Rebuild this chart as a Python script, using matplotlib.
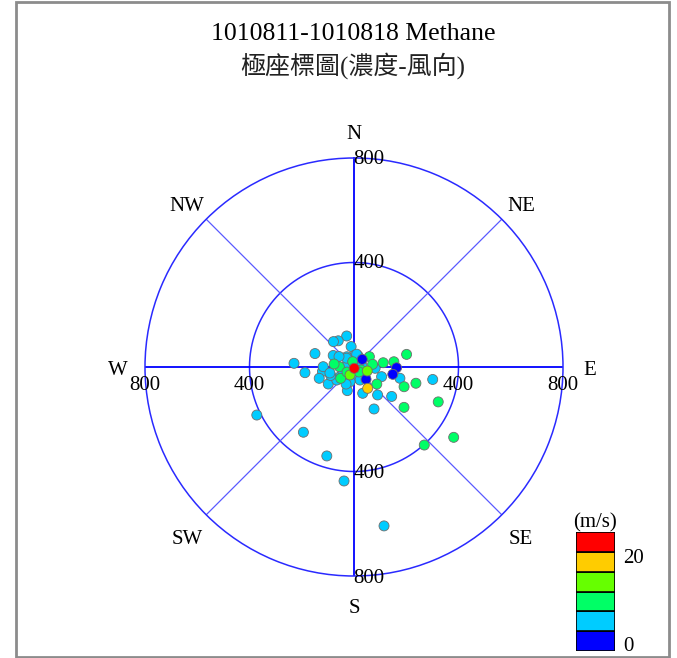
import numpy as np
import matplotlib
matplotlib.use("Agg")
import matplotlib.pyplot as plt
from matplotlib.colors import ListedColormap, BoundaryNorm
from matplotlib.patches import Rectangle

# Methane concentration by wind direction (degrees clockwise from north),
# coloured by wind speed (m/s).
direction = [
    346.7, 329.0, 321.0, 352.0, 289.0, 299.0, 273.5, 263.4, 261.9, 252.0,
    236.5, 195.8, 161.7, 154.5, 139.8, 128.0, 109.3, 103.8, 99.0, 4.8,
    21.3, 324.7, 36.0, 272.0, 235.3, 233.0, 223.4, 197.0, 159.0, 131.4,
    93.5, 243.7, 217.8, 197.0, 185.0, 169.3, 270.6, 320.0, 12.0, 155.0,
    195.0, 305.0, 250.0, 245.6, 82.9, 205.0, 256.0,
    56.0, 346.0, 271.0, 229.6, 81.8, 81.7, 82.5, 76.5, 126.8, 111.5,
    104.7, 128.9, 112.5, 138.0, 125.2, 234.0, 113.0, 278.5, 135.0,
    47.2, 91.0, 100.7, 135.7,
    106.7, 206.6,
    147.3,
    170.0,
]
concentration = [
    122, 117, 125, 79, 158, 91, 230, 189, 122, 140,
    118, 94, 106, 178, 140, 183, 112, 181, 305, 46,
    45, 48, 18, 34, 65, 83, 60, 52, 46, 56,
    81, 415, 316, 356, 438, 619, 118, 44, 50, 55,
    58, 70, 95, 46, 31, 72, 95,
    71, 21, 56, 67, 72, 113, 154, 207, 109, 206,
    245, 246, 349, 402, 467, 33, 29, 77, 27,
    43, 163, 151, 66,
    53, 34,
    97,
    5,
]
wind_speed = [
    5.6, 6.2, 5.1, 7.0, 4.8, 6.5, 5.3, 6.1, 7.4, 5.9,
    4.6, 6.8, 5.5, 6.3, 7.1, 5.0, 6.6, 5.7, 4.9, 7.2,
    6.0, 5.4, 6.9, 4.7, 5.8, 6.4, 7.3, 5.2, 6.7, 4.5,
    5.9, 6.1, 5.5, 4.9, 6.3, 5.8, 6.6, 7.0, 5.3, 6.2,
    4.8, 5.7, 6.4, 5.1, 6.8, 7.2, 4.9,
    9.1, 10.4, 8.6, 11.2, 9.8, 10.9, 8.9, 11.5, 9.4, 10.1,
    8.3, 11.8, 9.6, 10.7, 8.8, 9.9, 11.0, 9.3, 10.5,
    2.4, 3.1, 1.8, 2.9,
    13.2, 14.6,
    17.5,
    21.3,
]

speed_bounds = [0, 4, 8, 12, 16, 20, 24]
speed_colors = ['#0000ff', '#00ccff', '#00ff66', '#66ff00', '#ffcc00', '#ff0000']
ring_values = [400, 800]
compass_labels = ['N', 'NE', 'E', 'SE', 'S', 'SW', 'W', 'NW']
title_line1 = '1010811-1010818 Methane'
title_line2 = '極座標圖(濃度-風向)'
unit_label = '(m/s)'

W, H = 677, 658
fig = plt.figure(figsize=(W / 100, H / 100), dpi=100)
serif = 'Liberation Serif'
mixed = ['Liberation Serif', 'Noto Sans CJK TC']

# polar plot area
cx, cy, R = 354, 367, 209
ax = fig.add_axes([(cx - R) / W, (H - cy - R) / H, 2 * R / W, 2 * R / H],
                  projection='polar')
ax.set_theta_zero_location('N')
ax.set_theta_direction(-1)
ax.set_ylim(0, ring_values[-1])
ax.grid(False)
ax.set_xticks([])
ax.set_yticks([])
ax.patch.set_alpha(0)
ax.spines['polar'].set_color('#2a2aff')
ax.spines['polar'].set_linewidth(1.1)

theta = np.linspace(0, 2 * np.pi, 721)
for rv in ring_values[:-1]:
    ax.plot(theta, np.full_like(theta, rv), color='#2a2aff', lw=1.1, zorder=1)
for i in range(8):
    a = np.deg2rad(45 * i)
    cardinal = i % 2 == 0
    ax.plot([a, a], [0, ring_values[-1]],
            color='#0000ff' if cardinal else '#5a5aff',
            lw=1.3 if cardinal else 0.9, zorder=1)

cmap = ListedColormap(speed_colors)
norm = BoundaryNorm(speed_bounds, cmap.N)
ax.scatter(np.deg2rad(direction), concentration, c=wind_speed, cmap=cmap,
           norm=norm, s=52, edgecolors='#6e6e6e', linewidths=0.6,
           zorder=3, clip_on=False)

# ring value labels along the four main axes
offsets = {0: (10.8, -1.0), 180: (10.8, -1.8), 90: (0, -13.5), 270: (0, -13.5)}
for ang, off in offsets.items():
    for rv in ring_values:
        ax.annotate(str(rv), xy=(np.deg2rad(ang), rv), xytext=off,
                    textcoords='offset points', ha='center', va='center',
                    fontsize=15, family=serif, annotation_clip=False, zorder=4)

# compass labels
for i, lab in enumerate(compass_labels):
    drop = -2.5 if i % 2 == 0 else -4.2
    if i == 4:
        drop = -4.2
    ax.annotate(lab, xy=(np.deg2rad(45 * i), 903), xytext=(0, drop),
                textcoords='offset points', ha='center', va='center',
                fontsize=15, family=serif, annotation_clip=False)

# titles
fig.text(353 / W, 1 - 34 / H, title_line1, ha='center', va='center',
         fontsize=18.5, family=serif)
fig.text(353 / W, 1 - 66 / H, title_line2, ha='center', va='center',
         fontsize=18, family=mixed, color='#222222')

# wind speed legend
cax = fig.add_axes([576 / W, 1 - 651 / H, 39 / W, 119 / H])
for k in range(len(speed_colors)):
    cax.bar(0, speed_bounds[k + 1] - speed_bounds[k], bottom=speed_bounds[k],
            width=1, color=speed_colors[k], edgecolor='black', lw=1.2)
cax.set_xlim(-0.5, 0.5)
cax.set_ylim(speed_bounds[0], speed_bounds[-1])
cax.axis('off')
cax.text(0.5, 1.075, unit_label, transform=cax.transAxes, ha='center',
         va='center', fontsize=15, family=serif)
cax.text(1.2, 0.78, '20', transform=cax.transAxes, ha='left', va='center',
         fontsize=15, family=serif)
cax.text(1.2, 0.035, '0', transform=cax.transAxes, ha='left', va='center',
         fontsize=15, family=serif)

# outer frame
fig.patches.append(Rectangle((16 / W, 1 / H), (669 - 16) / W, 655 / H,
                             transform=fig.transFigure, fill=False,
                             edgecolor='#8c8c8c', lw=2))

fig.savefig('out.png', dpi=100)
